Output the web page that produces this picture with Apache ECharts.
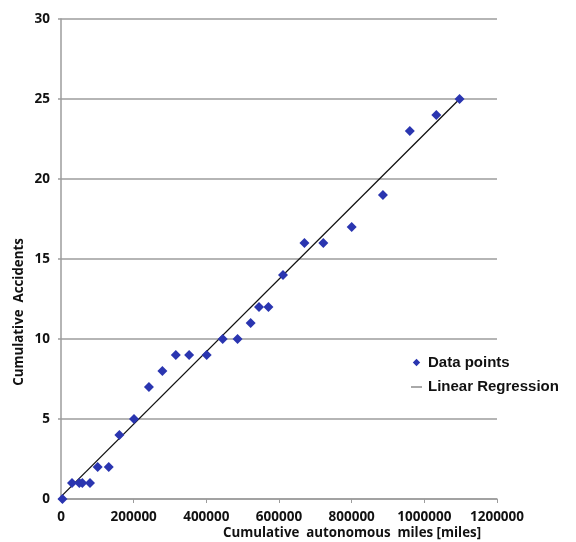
<!DOCTYPE html>
<html>
<head>
<meta charset="utf-8">
<script src="https://cdn.jsdelivr.net/npm/echarts@6/dist/echarts.min.js"></script>
<style>html,body{margin:0;padding:0;background:#fff}#c{width:576px;height:542px}</style>
</head>
<body>
<div id="c"></div>
<script>
// Data
const miles = [4000, 30300, 50400, 58700, 79900, 101000, 131400, 160700, 201000, 242000, 279000, 316000, 352600, 401000, 445000, 486000, 522000, 545000, 571000, 611000, 670000, 722000, 800000, 886000, 960000, 1033000, 1097000];
const accidents = [0, 1, 1, 1, 1, 2, 2, 4, 5, 7, 8, 9, 9, 9, 10, 10, 11, 12, 12, 14, 16, 16, 17, 19, 23, 24, 25];
const regressionMiles = [0, 1097000];
const regressionAccidents = [0.15, 25];
const xTicks = [0, 200000, 400000, 600000, 800000, 1000000, 1200000];
const yTicks = [0, 5, 10, 15, 20, 25, 30];
const seriesNames = ['Data points', 'Linear Regression'];
const xTitle = 'Cumulative  autonomous  miles [miles]';
const yTitle = 'Cumulative  Accidents';

const tickFont = '"Open Sans", "DejaVu Sans", sans-serif';
const gridColor = '#9c9c9c';
const lineIcon = 'path://M0,0 L0.01,0 L0,0.01 Z M0,3.4 L11,3.4 L11,4.6 L0,4.6 Z M12,8 L11.99,8 L12,7.99 Z';
const diamondIcon = 'path://M0,0 L0.01,0 L0,0.01 Z M5.5,0.3 L9.2,4 L5.5,7.7 L1.8,4 Z M12,8 L11.99,8 L12,7.99 Z';

const chart = echarts.init(document.getElementById('c'), null, {renderer: 'canvas'});
chart.setOption({
  animation: false,
  backgroundColor: '#ffffff',
  grid: {left: 61, right: 79, top: 19, bottom: 43, containLabel: false},
  xAxis: {
    type: 'value',
    min: xTicks[0], max: xTicks[xTicks.length - 1], interval: xTicks[1] - xTicks[0],
    axisLine: {show: true, lineStyle: {color: gridColor, width: 1.5}},
    axisTick: {show: true, length: 4, inside: false, lineStyle: {color: gridColor, width: 1}},
    splitLine: {show: false},
    axisLabel: {
      margin: 11, color: '#111', fontFamily: tickFont, fontWeight: 'bold', fontSize: 13.5,
      formatter: v => String(v)
    }
  },
  yAxis: {
    type: 'value',
    min: yTicks[0], max: yTicks[yTicks.length - 1], interval: yTicks[1] - yTicks[0],
    axisLine: {show: true, lineStyle: {color: gridColor, width: 1.5}},
    axisTick: {show: true, length: 3, lineStyle: {color: gridColor, width: 1.5}},
    splitLine: {show: true, lineStyle: {color: gridColor, width: 1.5}},
    axisLabel: {
      margin: 11, color: '#111', fontFamily: tickFont, fontWeight: 'bold', fontSize: 13.5,
      formatter: v => String(v)
    }
  },
  legend: {
    orient: 'vertical',
    left: 406, top: 350,
    itemWidth: 12, itemHeight: 8, itemGap: 9.5,
    textStyle: {fontFamily: '"Liberation Sans", Arial, sans-serif', fontWeight: 'bold', fontSize: 15, color: '#111'},
    data: [
      {name: seriesNames[0], icon: diamondIcon, itemStyle: {color: '#2A35B0', borderWidth: 0}},
      {name: seriesNames[1], icon: lineIcon, itemStyle: {color: '#555', borderWidth: 0}}
    ]
  },
  graphic: [
    {
      type: 'text', x: 352, y: 533,
      style: {text: xTitle, align: 'center', verticalAlign: 'middle',
        fontFamily: tickFont, fontWeight: 'bold', fontSize: 13.3, fill: '#111'}
    },
    {
      type: 'text', x: 19, y: 312, rotation: Math.PI / 2,
      style: {text: yTitle, align: 'center', verticalAlign: 'middle',
        fontFamily: tickFont, fontWeight: 'bold', fontSize: 13.3, fill: '#111'}
    }
  ],
  series: [
    {
      name: seriesNames[1],
      type: 'line',
      symbol: 'none',
      z: 2,
      lineStyle: {color: '#111', width: 1.3},
      itemStyle: {color: '#555'},
      data: regressionMiles.map((m, i) => [m, regressionAccidents[i]])
    },
    {
      name: seriesNames[0],
      type: 'scatter',
      symbol: 'diamond',
      symbolSize: [10, 10],
      z: 3,
      itemStyle: {color: '#2A35B0', opacity: 1},
      data: miles.map((m, i) => [m, accidents[i]])
    }
  ]
});
</script>
</body>
</html>
